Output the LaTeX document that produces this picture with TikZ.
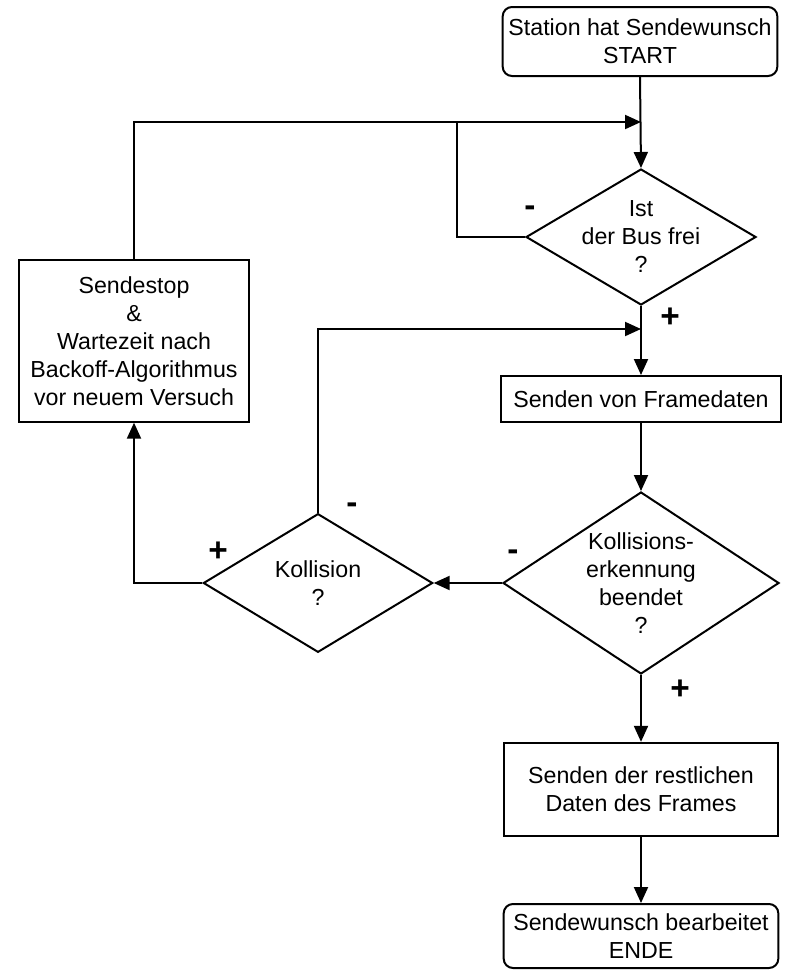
\documentclass[tikz,border=0pt]{standalone}
\usepackage{fontspec}
\setmainfont{Liberation Sans}
\usetikzlibrary{shapes.geometric,arrows.meta}

\tikzset{
    terminal/.style={draw, rounded corners=7pt, inner sep=0pt, minimum width=206pt, minimum height=50pt},
    process/.style={draw, inner sep=0pt},
    decision/.style={draw, diamond, aspect=1.7, inner sep=-6pt},
    arrowline/.style={-{Triangle[length=12pt,width=10.5pt]}},
    answer/.style={inner sep=0pt, font=\fontsize{25pt}{25pt}\selectfont\bfseries}
}

\begin{document}
\begin{tikzpicture}[x=0.75pt, y=-0.75pt, line width=1.5pt,
    every node/.style={font=\fontsize{17.4pt}{21pt}\selectfont, align=center}]
    \useasboundingbox (0,0) rectangle (785,971);

    \node[terminal, minimum height=51.75pt] (start) at (640,41.5) {Station hat Sendewunsch\\START};
    \node[decision, minimum width=172.5pt, minimum height=102pt] (busfrei) at (641,237) {Ist\\der Bus frei\\?};
    \node[process, minimum width=210pt, minimum height=34.5pt] (frame) at (641,399) {Senden von Framedaten};
    \node[decision, minimum width=207pt, minimum height=136.5pt] (erkennung) at (641,583) {Kollisions-\\erkennung\\beendet\\?};
    \node[decision, minimum width=172pt, minimum height=104pt] (kollision) at (318,583) {Kollision\\?};
    \node[process, minimum width=173pt, minimum height=121pt] (backoff) at (134,341) {Sendestop\\\&\\Wartezeit nach\\Backoff-Algorithmus\\vor neuem Versuch};
    \node[process, minimum width=206pt, minimum height=70pt] (rest) at (641,789.5) {Senden der restlichen\\Daten des Frames};
    \node[terminal, minimum height=48pt] (ende) at (641,936) {Sendewunsch bearbeitet\\ENDE};

    \coordinate (topjoin) at (641,122);
    \coordinate (busjoin) at (457,122);
    \coordinate (midjoin) at (641,329);

    \draw[arrowline] (start.south) -- (busfrei.north);
    \draw[arrowline] (backoff.north) |- (topjoin);
    \draw (busfrei.west) -| (busjoin);
    \draw[arrowline] (busfrei.south) -- (frame.north);
    \draw[arrowline] (kollision.north) |- (midjoin);
    \draw[arrowline] (frame.south) -- (erkennung.north);
    \draw[arrowline] (erkennung.west) -- (kollision.east);
    \draw[arrowline] (kollision.west) -| (backoff.south);
    \draw[arrowline] (erkennung.south) -- (rest.north);
    \draw[arrowline] (rest.south) -- (ende.north);

    \node[answer] (busno) at (530,211) {-};
    \node[answer] (busyes) at (670,318) {+};
    \node[answer] (erkno) at (513,555) {-};
    \node[answer] (erkyes) at (680,690) {+};
    \node[answer] (kollyes) at (218,552) {+};
    \node[answer] (kollno) at (352,508) {-};
\end{tikzpicture}
\end{document}
